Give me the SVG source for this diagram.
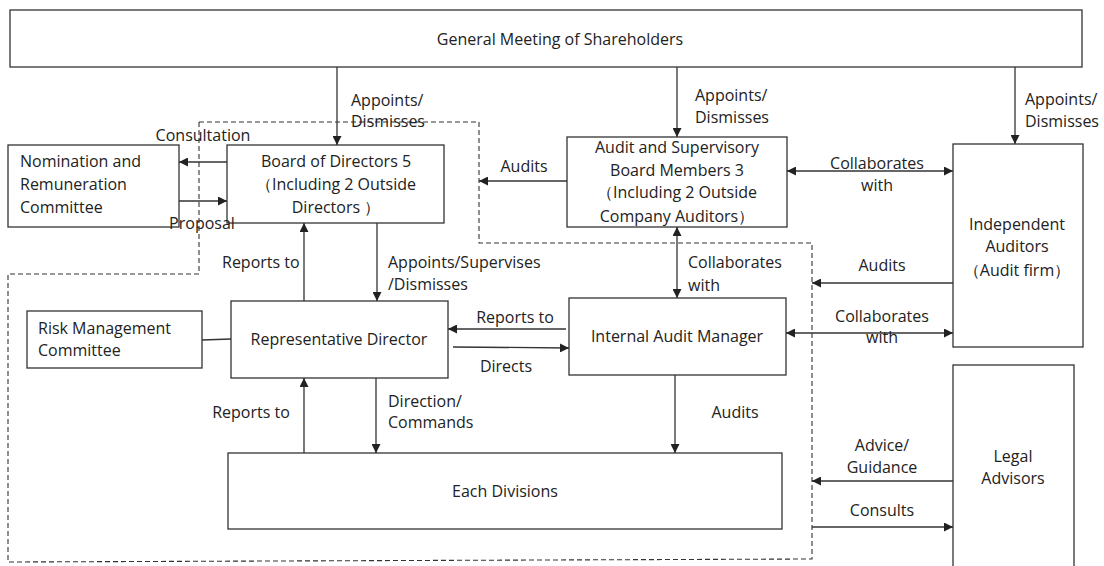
<svg xmlns="http://www.w3.org/2000/svg" width="1104" height="566" viewBox="0 0 1104 566">
<style>
.box{fill:#fff;stroke:#333;stroke-width:1.3}
.t{font-family:"Open Sans","Noto Sans","Liberation Sans",sans-serif;font-size:16px;fill:#222}
.m{text-anchor:middle}
.ln{stroke:#333;stroke-width:1.3;fill:none}
.ar{marker-end:url(#ah)}
.da{marker-end:url(#ah);marker-start:url(#ahs)}
.dash{fill:none;stroke:#333;stroke-width:1.1;stroke-dasharray:5 3}
</style>
<defs>
<marker id="ah" markerUnits="userSpaceOnUse" markerWidth="9" markerHeight="9" refX="9" refY="4.5" orient="auto"><path d="M0,0 L9,4.5 L0,9 z" fill="#222"/></marker>
<marker id="ahs" markerUnits="userSpaceOnUse" markerWidth="9" markerHeight="9" refX="9" refY="4.5" orient="auto-start-reverse"><path d="M0,0 L9,4.5 L0,9 z" fill="#222"/></marker>
</defs>
<rect width="1104" height="566" fill="#fff"/>
<path class="dash" d="M199,122 H479 V243 H812 V559 L8,562 V274 H199 Z"/>
<g id="shareholders"><rect class="box" x="10" y="10" width="1072" height="57"/><text class="t m" x="560" y="45">General Meeting of Shareholders</text></g>
<g id="nomination"><rect class="box" x="8" y="145" width="171" height="82"/><text class="t" x="20" y="167">Nomination and</text><text class="t" x="20" y="190">Remuneration</text><text class="t" x="20" y="213">Committee</text></g>
<g id="board"><rect class="box" x="227" y="145" width="217" height="78"/><text class="t m" x="336" y="167">Board of Directors 5</text><text class="t m" x="336" y="190">（Including 2 Outside</text><text class="t m" x="336" y="213">Directors ）</text></g>
<g id="audit-board"><rect class="box" x="567" y="137" width="220" height="90"/><text class="t m" x="677" y="153">Audit and Supervisory</text><text class="t m" x="677" y="176">Board Members 3</text><text class="t m" x="677" y="198">（Including 2 Outside</text><text class="t m" x="677" y="222">Company Auditors）</text></g>
<g id="independent"><rect class="box" x="953" y="144" width="130" height="203"/><text class="t m" x="1017" y="230">Independent</text><text class="t m" x="1017" y="252">Auditors</text><text class="t m" x="1017" y="276">（Audit firm）</text></g>
<g id="rep"><rect class="box" x="231" y="301" width="217" height="77"/><text class="t m" x="339" y="345">Representative Director</text></g>
<g id="iam"><rect class="box" x="569" y="298" width="217" height="77"/><text class="t m" x="677" y="342">Internal Audit Manager</text></g>
<g id="risk"><rect class="box" x="27" y="311" width="175" height="57"/><text class="t" x="38" y="334">Risk Management</text><text class="t" x="38" y="356">Committee</text></g>
<g id="divisions"><rect class="box" x="228" y="453" width="554" height="76"/><text class="t m" x="505" y="497">Each Divisions</text></g>
<g id="legal"><rect class="box" x="953" y="365" width="121" height="210"/><text class="t m" x="1013" y="462">Legal</text><text class="t m" x="1013" y="484">Advisors</text></g>
<g id="connectors">
<line class="ln ar" x1="337" y1="67" x2="337" y2="145"/>
<line class="ln ar" x1="677" y1="67" x2="677" y2="137"/>
<line class="ln ar" x1="1015" y1="67" x2="1015" y2="144"/>
<line class="ln ar" x1="227" y1="162" x2="179" y2="162"/>
<line class="ln ar" x1="179" y1="201" x2="227" y2="201"/>
<line class="ln ar" x1="567" y1="181" x2="479" y2="181"/>
<line class="ln da" x1="787" y1="171" x2="953" y2="171"/>
<line class="ln da" x1="677" y1="227" x2="677" y2="298"/>
<line class="ln ar" x1="953" y1="283" x2="812" y2="283"/>
<line class="ln da" x1="786" y1="333" x2="953" y2="333"/>
<line class="ln ar" x1="377" y1="223" x2="377" y2="301"/>
<line class="ln ar" x1="304" y1="301" x2="304" y2="223"/>
<line class="ln" x1="202" y1="340" x2="231" y2="339"/>
<line class="ln ar" x1="566" y1="329" x2="448" y2="329"/>
<line class="ln ar" x1="453" y1="347" x2="569" y2="348"/>
<line class="ln ar" x1="376" y1="378" x2="376" y2="453"/>
<line class="ln ar" x1="304" y1="453" x2="304" y2="378"/>
<line class="ln ar" x1="675" y1="375" x2="675" y2="453"/>
<line class="ln ar" x1="953" y1="481" x2="812" y2="481"/>
<line class="ln ar" x1="812" y1="527" x2="953" y2="527"/>
<text class="t" x="351" y="106">Appoints/</text><text class="t" x="351" y="127">Dismisses</text>
<text class="t" x="695" y="101">Appoints/</text><text class="t" x="695" y="123">Dismisses</text>
<text class="t" x="1025" y="105">Appoints/</text><text class="t" x="1025" y="127">Dismisses</text>
<text class="t m" x="203" y="141">Consultation</text>
<text class="t m" x="202" y="229">Proposal</text>
<text class="t m" x="524" y="172">Audits</text>
<text class="t m" x="877" y="169">Collaborates</text><text class="t m" x="877" y="191">with</text>
<text class="t" x="688" y="268">Collaborates</text><text class="t" x="688" y="291">with</text>
<text class="t m" x="882" y="271">Audits</text>
<text class="t m" x="882" y="322">Collaborates</text><text class="t m" x="882" y="343">with</text>
<text class="t" x="222" y="268">Reports to</text>
<text class="t" x="388" y="268">Appoints/Supervises</text><text class="t" x="388" y="290">/Dismisses</text>
<text class="t m" x="515" y="323">Reports to</text>
<text class="t m" x="506" y="372">Directs</text>
<text class="t" x="388" y="407">Direction/</text><text class="t" x="388" y="428">Commands</text>
<text class="t m" x="251" y="418">Reports to</text>
<text class="t m" x="735" y="418">Audits</text>
<text class="t m" x="882" y="451">Advice/</text><text class="t m" x="882" y="473">Guidance</text>
<text class="t m" x="882" y="516">Consults</text>
</g>
</svg>
